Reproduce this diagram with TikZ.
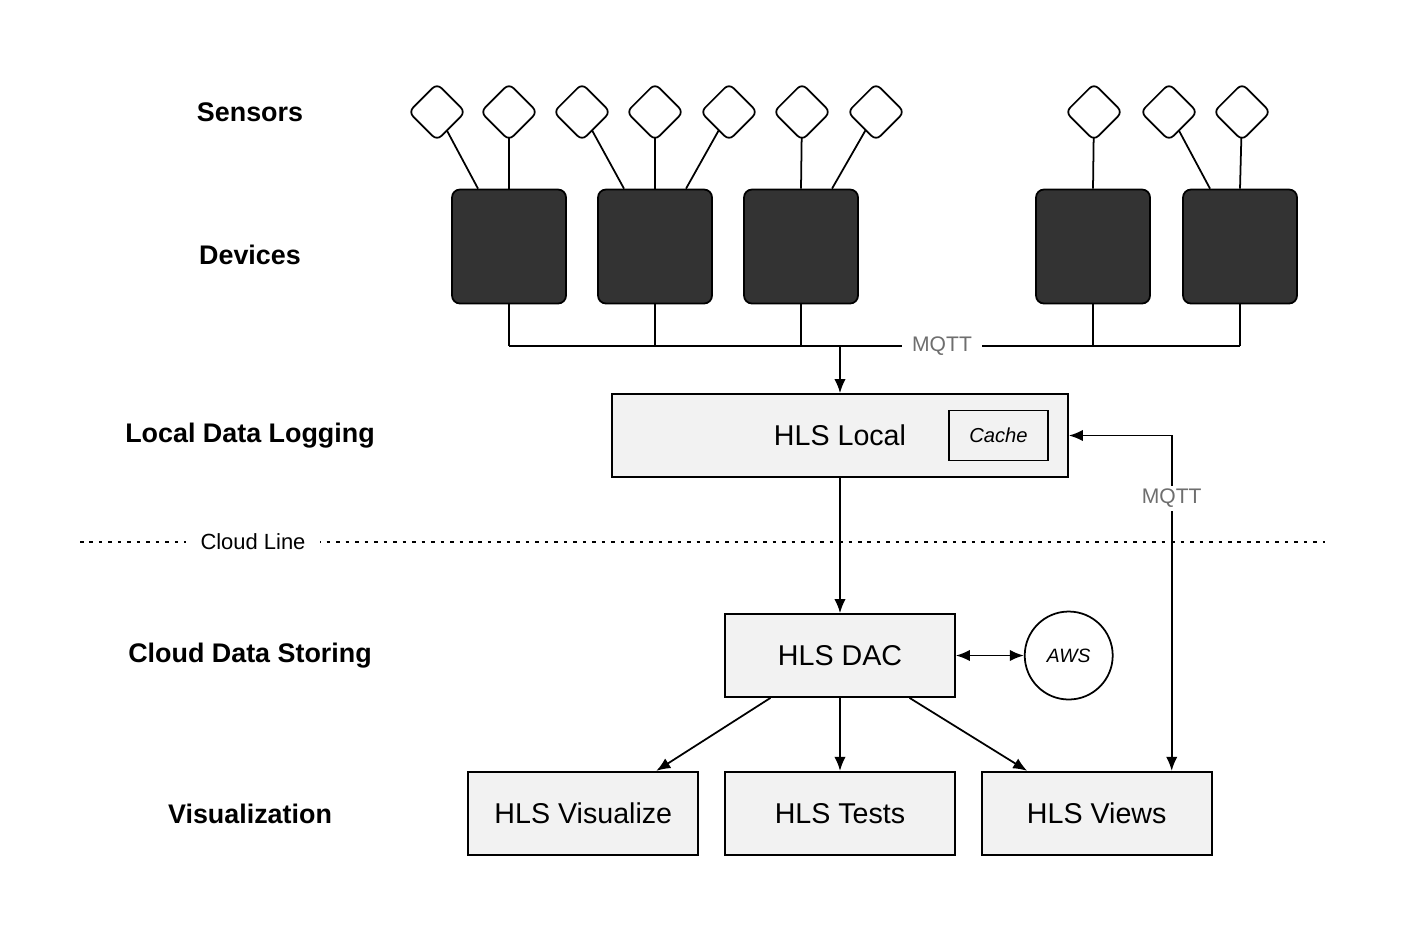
\documentclass[tikz,border=0pt]{standalone}
\usepackage{fontspec}
\setmainfont{Liberation Sans}
\usepackage{xcolor}
\usetikzlibrary{arrows.meta, calc, positioning, backgrounds}

\definecolor{devicegray}{HTML}{333333}
\definecolor{boxgray}{HTML}{F2F2F2}
\definecolor{labelgray}{HTML}{6E6E6E}

\begin{document}
\begin{tikzpicture}[x=0.02cm, y=-0.02cm, line width=1pt, >={Latex[length=8pt, width=6.5pt]},
    layer/.style={font=\fontsize{15.3}{18}\selectfont\bfseries},
    sensor/.style={draw, fill=white, rotate=45, minimum size=0.8cm, rounded corners=3.5pt},
    device/.style={draw, fill=devicegray, minimum size=2.28cm, rounded corners=4.5pt},
    hls/.style={draw, fill=boxgray, minimum width=4.6cm, minimum height=1.66cm, font=\fontsize{16.3}{19}\selectfont},
    proto/.style={fill=white, text=labelgray, inner sep=2pt, font=\fontsize{12}{14}\selectfont},
    wire/.style={line width=1pt}]
    \useasboundingbox (0,0) rectangle (1408,938);

    % Layer labels (left column)
    \node [layer] (lsensors) at (250,112) {Sensors};
    \node [layer] (ldevices) at (250,255) {Devices};
    \node [layer] (llocal) at (250,436) {Local Data Logging};
    \node [layer] (lcloud) at (250,656) {Cloud Data Storing};
    \node [layer] (lvis) at (250,814) {Visualization};

    % Sensors
    \foreach \i/\x in {1/437, 2/509, 3/582, 4/655, 5/729, 6/802, 7/876, 8/1094, 9/1169, 10/1242}
        \node [sensor] (s\i) at (\x,112) {};

    % Devices
    \foreach \i/\x in {1/509, 2/655, 3/801, 4/1093, 5/1240}
        \node [device] (d\i) at (\x,246.5) {};

    % Sensor -> Device wires (behind the sensors)
    \begin{scope}[on background layer]
        \draw [wire] (s1.center) -- ($(d1.north)+(-31,0)$);
        \draw [wire] (s2.center) -- (d1.north);
        \draw [wire] (s3.center) -- ($(d2.north)+(-31,0)$);
        \draw [wire] (s4.center) -- (d2.north);
        \draw [wire] (s5.center) -- ($(d2.north)+(31,0)$);
        \draw [wire] (s6.center) -- (d3.north);
        \draw [wire] (s7.center) -- ($(d3.north)+(31,0)$);
        \draw [wire] (s8.center) -- (d4.north);
        \draw [wire] (s9.center) -- ($(d5.north)+(-30,0)$);
        \draw [wire] (s10.center) -- (d5.north);
    \end{scope}

    % Device bus
    \coordinate (bus) at (840,346);
    \begin{scope}[on background layer]
        \draw [wire] (d1.south |- bus) -- (d5.south |- bus);
    \end{scope}
    \foreach \i in {1,...,5}
        \draw (d\i.south) -- (d\i.south |- bus);
    \node [proto, inner xsep=6pt] (mqttbus) at (942,346) {MQTT};

    % Local data logging
    \node [hls, minimum width=9.12cm] (local) at (840,435.5) {HLS Local};
    \node [draw, fill=boxgray, minimum width=1.98cm, minimum height=1cm, font=\fontsize{11.5}{14}\selectfont\itshape, left=0.4cm of local.east] (cache) {Cache};
    \draw [->] (bus) -- (local.north);

    % Cloud line
    \coordinate (cloudL) at (80,542);
    \coordinate (cloudR) at (1325,542);
    \draw [line width=0.8pt, dash pattern=on 2pt off 3.4pt] (cloudL) -- (cloudR);
    \node [fill=white, inner xsep=8pt, font=\fontsize{12.5}{15}\selectfont] (cloudtxt) at (253,542) {Cloud Line};

    % Cloud data storing
    \node [hls] (dac) at (840,655.5) {HLS DAC};
    \node [draw, circle, minimum size=1.76cm, inner sep=0pt, font=\fontsize{11}{13}\selectfont\itshape, right=1.36cm of dac] (aws) {AWS};
    \draw [->] (local.south) -- (dac.north);
    \draw [<->] (dac.east) -- (aws.west);

    % Visualization
    \node [hls, below=1.46cm of dac] (tests) {HLS Tests};
    \node [hls, left=0.5cm of tests] (vis) {HLS Visualize};
    \node [hls, right=0.5cm of tests] (views) {HLS Views};

    \draw [->] ($(dac.south west)!0.2!(dac.south east)$) -- ($(vis.north west)!0.815!(vis.north east)$);
    \draw [->] (dac.south) -- (tests.north);
    \draw [->] ($(dac.south west)!0.8!(dac.south east)$) -- ($(views.north west)!0.2!(views.north east)$);

    % MQTT feedback to local
    \coordinate (viewsin) at ($(views.north)+(75,0)$);
    \draw [<->] (local.east) -| node [proto, pos=0.594] {MQTT} (viewsin);

\end{tikzpicture}
\end{document}
